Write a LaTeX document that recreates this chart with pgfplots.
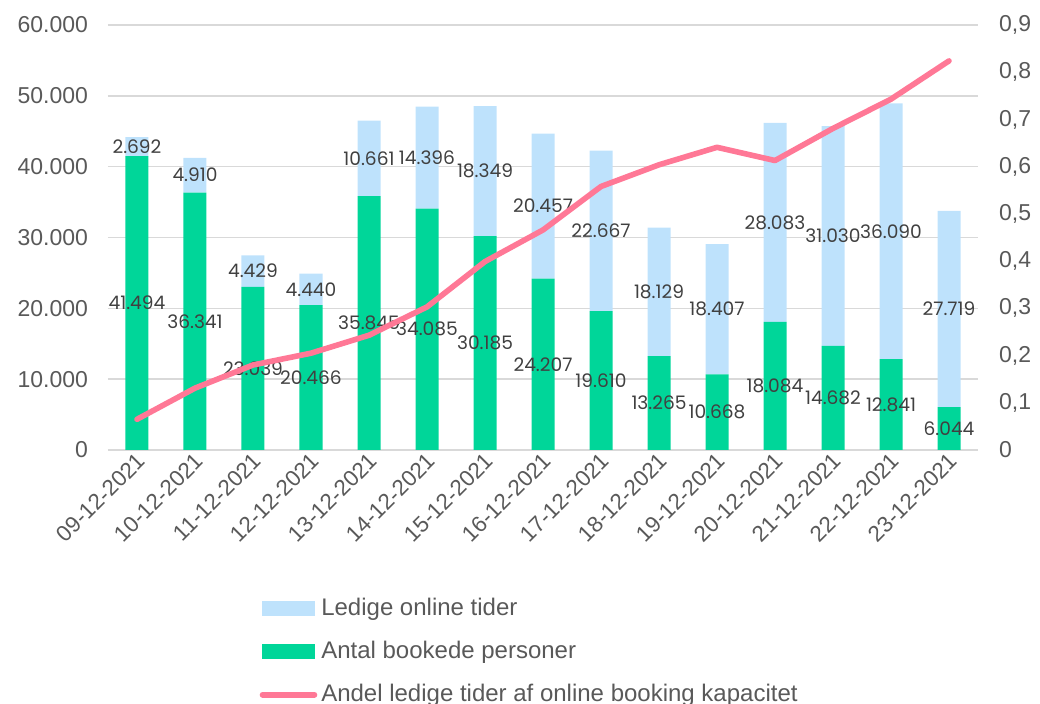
\documentclass[border=0pt]{standalone}
\usepackage{fontspec}
\setmainfont{Liberation Sans}
\newfontfamily\lblfont{Poppins}
\usepackage{pgfplots}
\usepackage{pgfplotstable}
\pgfplotsset{compat=1.18}

\definecolor{booked}{RGB}{0,214,153}
\definecolor{free}{RGB}{190,226,252}
\definecolor{share}{RGB}{255,120,150}
\definecolor{gridc}{RGB}{217,217,217}
\definecolor{txt}{RGB}{89,89,89}
\definecolor{lbl}{RGB}{64,64,64}

% x booked free
\pgfplotstableread{
x booked free
0 41494 2692
1 36341 4910
2 23039 4429
3 20466 4440
4 35845 10661
5 34085 14396
6 30185 18349
7 24207 20457
8 19610 22667
9 13265 18129
10 10668 18407
11 18084 28083
12 14682 31030
13 12841 36090
14 6044 27719
}\bars

\pgfplotstableread{
x share
0 0.065
1 0.131
2 0.180
3 0.205
4 0.243
5 0.303
6 0.399
7 0.466
8 0.558
9 0.604
10 0.641
11 0.613
12 0.681
13 0.743
14 0.824
}\shares

\pgfplotsset{
  base/.style={
    scale only axis, width=435pt, height=212.5pt,
    xmin=-0.5, xmax=14.5,
    axis line style={draw=none}, tick style={draw=none},
    tick label style={text=txt, font=\fontsize{11.5}{13}\selectfont},
    /pgf/number format/assume math mode=true,
  },
}

\begin{document}
\begin{tikzpicture}
\path[use as bounding box] (-54pt,-127pt) rectangle (466pt,225pt);

\begin{axis}[base,
  ybar stacked, bar width=11.5pt,
  ymin=0, ymax=60000, ytick={0,10000,...,60000},
  scaled y ticks=false,
  yticklabel style={/pgf/number format/1000 sep={.}, xshift=-6.5pt},
  ymajorgrids, grid style={gridc, line width=0.8pt},
  xtick={0,...,14},
  xticklabels={09-12-2021,10-12-2021,11-12-2021,12-12-2021,13-12-2021,14-12-2021,15-12-2021,16-12-2021,17-12-2021,18-12-2021,19-12-2021,20-12-2021,21-12-2021,22-12-2021,23-12-2021},
  xticklabel style={rotate=45, anchor=east, font=\fontsize{11.2}{13}\selectfont, xshift=2.5pt, yshift=-4pt},
]
\addplot[fill=booked, draw=none] table[x=x, y=booked] {\bars};
\addplot[fill=free, draw=none] table[x=x, y=free] {\bars};
\end{axis}

% data labels, centred in each segment
\begin{axis}[base, hide axis, clip=false, ymin=0, ymax=60000,
  nodes near coords={\pgfmathprintnumber{\pgfplotspointmeta}},
  point meta=explicit,
  every node near coord/.style={anchor=center, inner sep=0pt, text=lbl,
    font=\lblfont\fontsize{9.3}{11}\selectfont,
    /pgf/number format/.cd, fixed, precision=0, 1000 sep={.}},
]
\addplot[draw=none, mark=none] table[x=x, y expr=\thisrow{booked}/2, meta=booked] {\bars};
\addplot[draw=none, mark=none] table[x=x, y expr=\thisrow{booked}+\thisrow{free}/2, meta=free] {\bars};
\end{axis}

\begin{axis}[base,
  hide x axis, axis y line*=right,
  ymin=0, ymax=0.9, ytick={0,0.1,0.2,0.3,0.4,0.5,0.6,0.7,0.8,0.9},
  yticklabel style={/pgf/number format/.cd, fixed, precision=1, use comma, /tikz/.cd, xshift=7pt},
  legend style={at={(axis description cs:0.167,-0.328)}, anchor=north west,
    draw=none, fill=none, text=txt, font=\fontsize{12}{14}\selectfont,
    row sep=7.5pt, /tikz/every even column/.style={column sep=1pt}},
  legend cell align=left,
]
\addlegendimage{legend image code/.code={\fill[free] (0pt,-3.5pt) rectangle (26pt,3.5pt);}}
\addlegendentry{Ledige online tider}
\addlegendimage{legend image code/.code={\fill[booked] (0pt,-3.5pt) rectangle (26pt,3.5pt);}}
\addlegendentry{Antal bookede personer}
\addplot[share, line width=2.8pt, line cap=round, line join=round, mark=none,
  legend image code/.code={\draw[share, line width=2.8pt, line cap=round] (0pt,0pt) -- (26pt,0pt);}]
  table[x=x, y=share] {\shares};
\addlegendentry{Andel ledige tider af online booking kapacitet}
\end{axis}
\end{tikzpicture}
\end{document}
